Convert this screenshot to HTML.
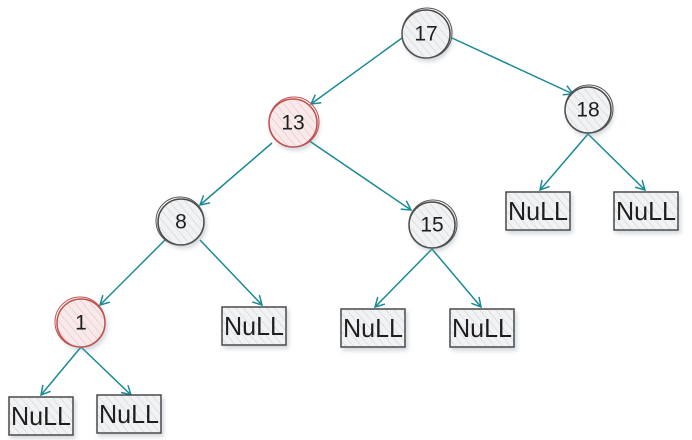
<!DOCTYPE html>
<html><head><meta charset="utf-8"><style>
html,body{margin:0;padding:0;background:#fff;}
svg{display:block;}
text{font-family:"Liberation Sans",sans-serif;font-size:21px;fill:#1e1e1e;text-anchor:middle;dominant-baseline:central;}
text.n{font-size:26px;}
</style></head><body>
<svg width="692" height="440" viewBox="0 0 692 440" xmlns="http://www.w3.org/2000/svg">
<defs>
<pattern id="hg" width="6" height="6" patternUnits="userSpaceOnUse" patternTransform="rotate(-40)">
<rect width="6" height="6" fill="#f1f2f4"/><line x1="0" y1="0" x2="0" y2="6" stroke="#d8d9dd" stroke-width="1.5"/></pattern>
<pattern id="hr" width="6" height="6" patternUnits="userSpaceOnUse" patternTransform="rotate(-40)">
<rect width="6" height="6" fill="#f8eaea"/><line x1="0" y1="0" x2="0" y2="6" stroke="#eec8c8" stroke-width="1.5"/></pattern>
<marker id="a" markerWidth="12" markerHeight="12" refX="10" refY="6" orient="auto" markerUnits="userSpaceOnUse">
<path d="M1,1 L10,6 L1,11" fill="none" stroke="#1a8a96" stroke-width="1.5"/></marker>
<filter id="sh" x="-30%" y="-30%" width="160%" height="160%"><feDropShadow dx="2" dy="3" stdDeviation="2" flood-color="#8090a0" flood-opacity="0.35"/></filter>
</defs>
<g stroke="#1a8a96" stroke-width="1.5" fill="none" marker-end="url(#a)">
<line x1="402" y1="38" x2="311" y2="104"/>
<line x1="452" y1="38" x2="573" y2="94"/>
<line x1="272" y1="143" x2="200" y2="205"/>
<line x1="308" y1="140" x2="411" y2="210"/>
<line x1="588" y1="134" x2="540" y2="190"/>
<line x1="588" y1="134" x2="645" y2="190"/>
<line x1="165" y1="240" x2="100" y2="305"/>
<line x1="200" y1="240" x2="262" y2="305"/>
<line x1="432" y1="249" x2="375" y2="307"/>
<line x1="432" y1="249" x2="481" y2="307"/>
<line x1="81" y1="347" x2="41" y2="395"/>
<line x1="81" y1="347" x2="131" y2="395"/>
</g>
<g filter="url(#sh)">
<g fill="url(#hg)" stroke="#4a4a4a" stroke-width="1.5">
<circle cx="426" cy="34" r="24"/><circle cx="588" cy="110" r="23"/>
<circle cx="181" cy="222" r="23"/><circle cx="432" cy="225" r="23"/>
<rect x="506" y="192" width="64" height="38"/><rect x="614" y="192" width="64" height="38"/>
<rect x="222" y="307" width="64" height="38"/><rect x="341" y="309" width="64" height="38"/>
<rect x="450" y="309" width="64" height="38"/><rect x="9" y="397" width="64" height="38"/>
<rect x="97" y="395" width="64" height="38"/>
</g>
<g fill="url(#hr)" stroke="#c0504d" stroke-width="1.5">
<circle cx="293" cy="123" r="24"/><circle cx="81" cy="323" r="24"/>
</g>
</g>
<g fill="none" stroke="#555" stroke-width="1">
<circle cx="427" cy="33" r="25"/><circle cx="589" cy="109" r="24"/>
<circle cx="180" cy="221" r="24"/><circle cx="433" cy="224" r="24"/>
</g>
<g fill="none" stroke="#c0504d" stroke-width="1">
<circle cx="294" cy="122" r="25"/><circle cx="80" cy="322" r="25"/>
</g>
<text x="426" y="34">17</text><text x="293" y="123">13</text><text x="588" y="110">18</text>
<text x="181" y="222">8</text><text x="432" y="225">15</text><text x="81" y="323">1</text>
<text class="n" x="538" y="211" textLength="60" lengthAdjust="spacingAndGlyphs">NuLL</text>
<text class="n" x="646" y="211" textLength="60" lengthAdjust="spacingAndGlyphs">NuLL</text>
<text class="n" x="254" y="326" textLength="60" lengthAdjust="spacingAndGlyphs">NuLL</text>
<text class="n" x="373" y="328" textLength="60" lengthAdjust="spacingAndGlyphs">NuLL</text>
<text class="n" x="482" y="328" textLength="60" lengthAdjust="spacingAndGlyphs">NuLL</text>
<text class="n" x="41" y="416" textLength="60" lengthAdjust="spacingAndGlyphs">NuLL</text>
<text class="n" x="129" y="414" textLength="60" lengthAdjust="spacingAndGlyphs">NuLL</text>
</svg>
</body></html>
